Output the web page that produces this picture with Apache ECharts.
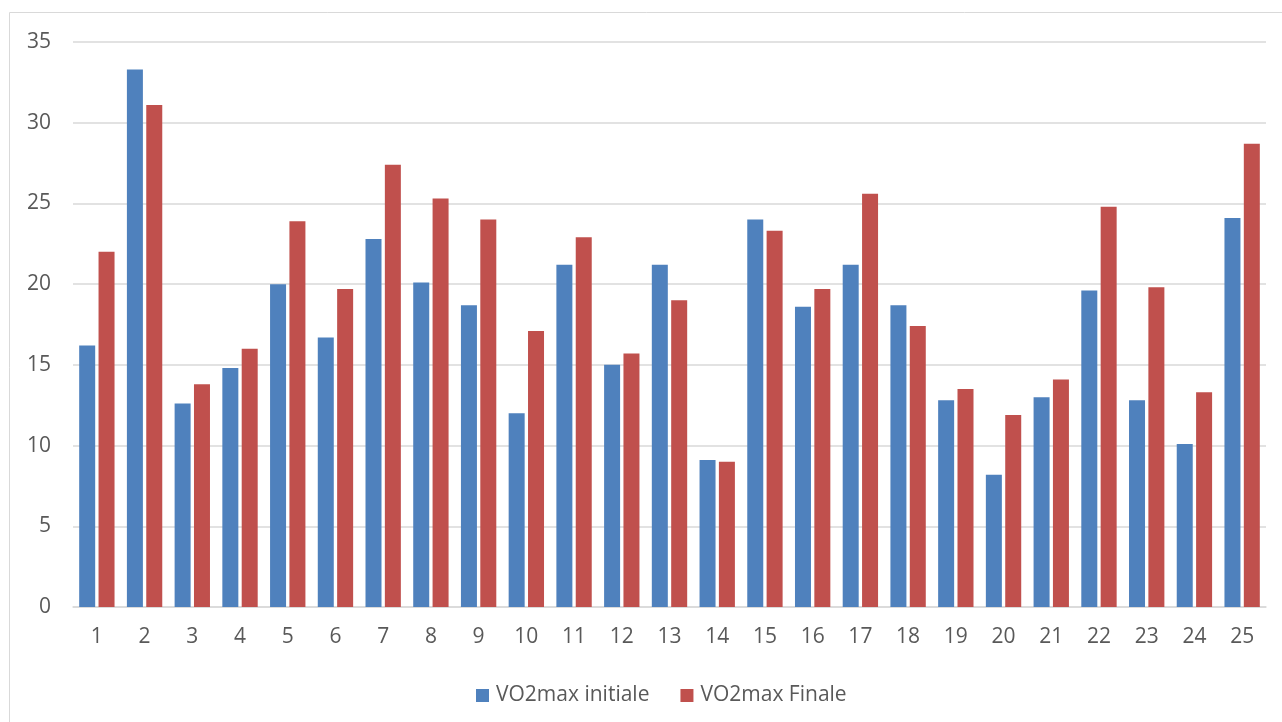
<!DOCTYPE html>
<html>
<head>
<meta charset="utf-8">
<script src="https://cdn.jsdelivr.net/npm/echarts@6/dist/echarts.min.js"></script>
<style>
  html, body { margin: 0; padding: 0; background: #fff; }
  #chart { width: 1282px; height: 722px; }
</style>
</head>
<body>
<div id="chart"></div>
<script>
// categories (subject number)
var categories = ['1','2','3','4','5','6','7','8','9','10','11','12','13','14','15','16','17','18','19','20','21','22','23','24','25'];
// VO2max values
var vo2Initiale = [16.2, 33.3, 12.6, 14.8, 20.0, 16.7, 22.8, 20.1, 18.7, 12.0, 21.2, 15.0, 21.2, 9.1, 24.0, 18.6, 21.2, 18.7, 12.8, 8.2, 13.0, 19.6, 12.8, 10.1, 24.1];
var vo2Finale = [22.0, 31.1, 13.8, 16.0, 23.9, 19.7, 27.4, 25.3, 24.0, 17.1, 22.9, 15.7, 19.0, 9.0, 23.3, 19.7, 25.6, 17.4, 13.5, 11.9, 14.1, 24.8, 19.8, 13.3, 28.7];
var seriesNames = ['VO2max initiale', 'VO2max Finale'];
var yTicks = { min: 0, max: 35, interval: 5 };

var myChart = echarts.init(document.getElementById('chart'));
var font = '"Open Sans", "Noto Sans", sans-serif';

var option = {
    animation: false,
    textStyle: { fontFamily: font },
    graphic: [{
        type: 'rect',
        shape: { x: 9.5, y: 12.5, width: 1400, height: 800 },
        style: { fill: 'none', stroke: '#D9D9D9', lineWidth: 1 },
        silent: true
    }],
    grid: { left: 73, right: 16, top: 42, bottom: 115 },
    legend: {
        data: seriesNames,
        left: 471,
        top: 680,
        itemWidth: 13,
        itemHeight: 13,
        itemGap: 31,
        icon: 'rect',
        textStyle: { color: '#595959', fontSize: 21, fontFamily: font, padding: [0, 0, 0, 2] }
    },
    xAxis: {
        type: 'category',
        data: categories,
        axisLine: { lineStyle: { color: '#D9D9D9', width: 1.5 } },
        axisTick: { show: false },
        axisLabel: { color: '#595959', fontSize: 21, fontFamily: font, margin: 20 }
    },
    yAxis: {
        type: 'value',
        min: yTicks.min,
        max: yTicks.max,
        interval: yTicks.interval,
        axisLine: { show: false },
        axisTick: { show: false },
        axisLabel: { color: '#595959', fontSize: 21, fontFamily: font, margin: 22 },
        splitLine: { lineStyle: { color: '#D9D9D9', width: 1.5 } }
    },
    series: [{
        name: seriesNames[0],
        type: 'bar',
        data: vo2Initiale,
        barWidth: 16,
        barGap: '21%',
        itemStyle: { color: '#4F81BD' }
    }, {
        name: seriesNames[1],
        type: 'bar',
        data: vo2Finale,
        barWidth: 16,
        barGap: '21%',
        itemStyle: { color: '#C0504D' }
    }]
};

myChart.setOption(option);
</script>
</body>
</html>
